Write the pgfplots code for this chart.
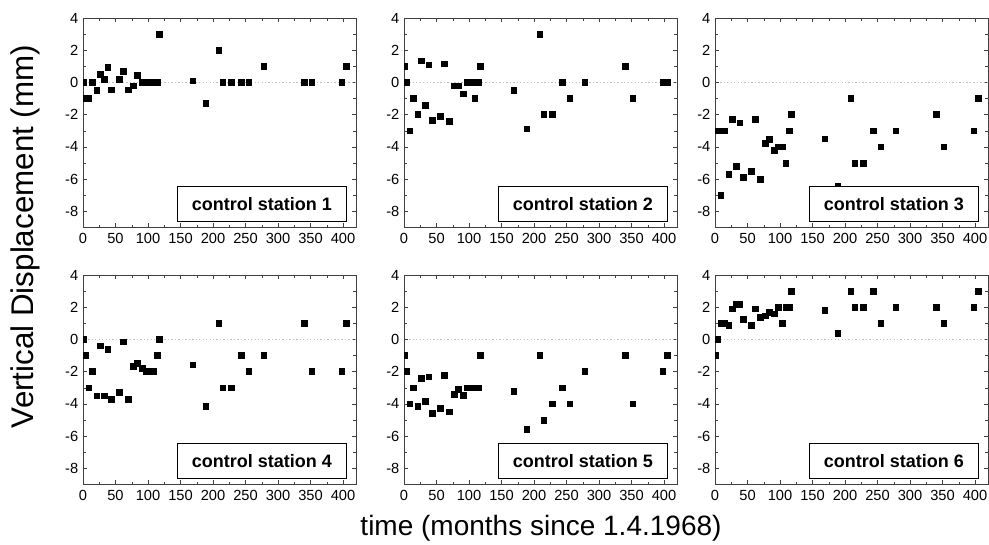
\documentclass[border=0pt]{standalone}
\usepackage{pgfplots}
\pgfplotsset{compat=1.18}
\usepackage{pgfplotstable}
\usepackage{fontspec}
\setmainfont{Liberation Sans}

\pgfplotstableread{
x y1 y2 y3 y4 y5 y6
1 0 1 -3 0 -1 -1
4 -1 0 -3 -1 -2 0
9 -1 -3 -7 -3 -4 1
14 0 -1 -3 -2 -3 1
21 -0.5 -2 -5.7 -3.5 -4.13 0.9
27 0.5 1.35 -2.3 -0.4 -2.42 1.9
33 0.2 -1.4 -5.2 -3.5 -3.82 2.2
38 0.95 1.1 -2.5 -0.6 -2.32 2.2
44 -0.45 -2.37 -5.9 -3.7 -4.58 1.26
56 0.2 -2.1 -5.5 -3.26 -4.29 0.9
62 0.7 1.15 -2.3 -0.15 -2.21 1.9
70 -0.45 -2.4 -6 -3.7 -4.5 1.37
77 -0.2 -0.2 -3.8 -1.66 -3.4 1.47
84 0.45 -0.2 -3.53 -1.47 -3.1 1.67
91 0 -0.7 -4.2 -1.8 -3.47 1.6
97 0 0 -4 -2 -3 2
103 0 0 -4 -2 -3 1
109 0 -1 -5 -2 -3 2
114 0 0 -3 -1 -3 2
117 3 1 -2 0 -1 3
169 0.1 -0.5 -3.5 -1.57 -3.2 1.8
189 -1.3 -2.87 -6.44 -4.15 -5.57 0.4
209 2 3 -1 1 -1 3
215 0 -2 -5 -3 -5 2
228 0 -2 -5 -3 -4 2
243 0 0 -3 -1 -3 3
255 0 -1 -4 -2 -4 1
278 1 0 -3 -1 -2 2
340 0 1 -2 1 -1 2
352 0 -1 -4 -2 -4 1
398 0 0 -3 -2 -2 2
405 1 0 -1 1 -1 3
}\datatable

\pgfplotsset{
  panel/.style={
    anchor=north west,
    scale only axis,
    width=204.75pt, height=157pt,
    xmin=0, xmax=420, ymin=-9, ymax=4,
    xtick={0,50,...,400}, ytick={-8,-6,...,4},
    minor x tick num=1, minor y tick num=1,
    tick label style={font=\fontsize{11}{12}\selectfont},
    /pgf/number format/assume math mode=true,
    axis line style={black!75},
    tick style={black!75},
    major tick length=3pt, minor tick length=2pt,
    clip marker paths=true,
    xticklabel style={yshift=-1pt},
  },
  dat/.style={only marks, mark=square*, mark size=2.15pt, black},
  zl/.style={gray!50, line width=1.3pt, dash pattern=on 1pt off 1.6pt, forget plot},
}
\tikzset{
  lab/.style={draw=black, line width=0.8pt, fill=white, anchor=south east,
    minimum width=126.75pt, minimum height=26.25pt, inner sep=0pt,
    font=\fontsize{13.5}{15}\bfseries\selectfont},
}

\newcommand{\panel}[3]{%
\begin{axis}[panel, at={#1}]
\addplot[zl] coordinates {(8,0) (420,0)};
\addplot[dat] table[x=x,y=#2]{\datatable};
\node[lab] at (rel axis cs:0.967,0.024) {control station #3};
\end{axis}}

\begin{document}
\begin{tikzpicture}
\path[use as bounding box] (0,0) rectangle (741.75pt,-408pt);
\panel{(62.25pt,-13.5pt)}{y1}{1}
\panel{(303pt,-13.5pt)}{y2}{2}
\panel{(536.25pt,-13.5pt)}{y3}{3}
\panel{(62.25pt,-206.25pt)}{y4}{4}
\panel{(303pt,-206.25pt)}{y5}{5}
\panel{(536.25pt,-206.25pt)}{y6}{6}
\node[rotate=90, font=\fontsize{23.5}{26}\selectfont] at (19pt,-177.4pt) {Vertical Displacement (mm)};
\node[font=\fontsize{21}{24}\selectfont] at (405.75pt,-396pt) {time (months since 1.4.1968)};
\end{tikzpicture}
\end{document}
